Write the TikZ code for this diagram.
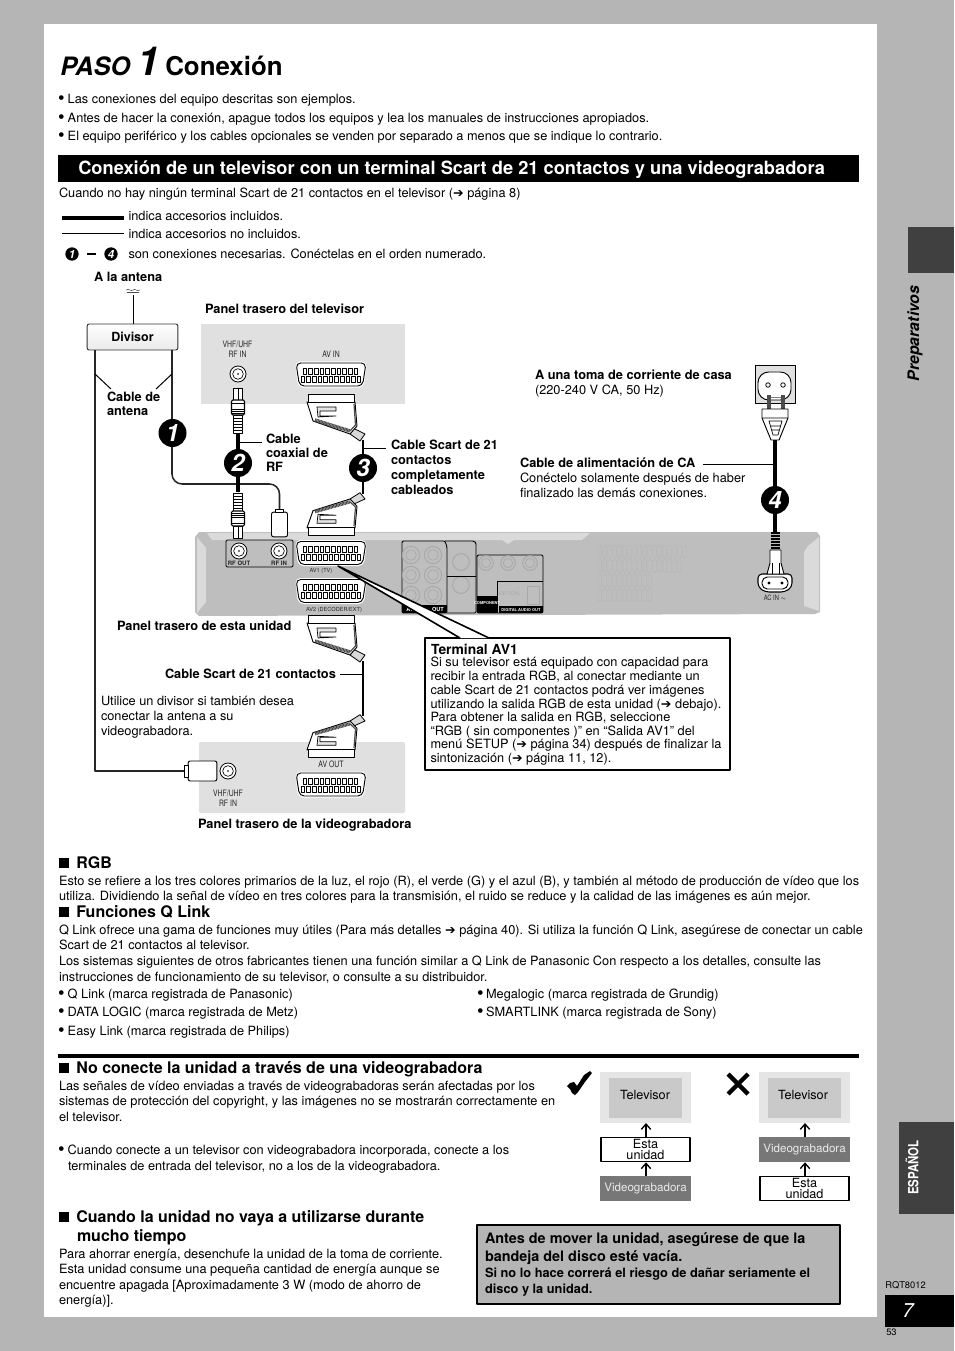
\documentclass[tikz,border=0pt]{standalone}
\usepackage{fontspec}
\setmainfont{TeX Gyre Heros}
\newfontfamily\dvf{DejaVu Sans}
\newcommand\arr{{\dvf\fontsize{9.5}{9}\selectfont\symbol{"2794}}}
\newcommand\bigbul{\raisebox{-.9pt}{\fontsize{14}{14}\selectfont\textbullet}}
\newcommand\bul{\makebox[7.3pt][l]{\bigbul}}
\newcommand\sq{\rule[0pt]{7.5pt}{7.5pt}}
\newcommand\fs[1]{\fontsize{#1}{#1}\selectfont}
\newcommand\narrow[1]{\scalebox{.78}[1]{#1}}
\definecolor{pagegray}{HTML}{B5B5B5}
\definecolor{tabdark}{HTML}{404040}
\definecolor{devgray}{HTML}{BEBEBE}
\definecolor{devlight}{HTML}{DADADA}
\definecolor{jack}{HTML}{A8A8A8}
\definecolor{panelgray}{HTML}{E0E0E0}
\definecolor{vcrbox}{HTML}{777777}
\usetikzlibrary{arrows.meta}
\tikzset{
 body/.style={anchor=base west,inner sep=0pt,outer sep=0pt,font=\fs{9.58}},
 boldt/.style={body,font=\fs{9.6}\bfseries},
 small/.style={anchor=base,inner sep=0pt,font=\fs{6.6},text=black!85},
 head/.style={body,font=\fs{12}\bfseries},
 num/.style={circle,fill=black,text=white,inner sep=0pt,minimum size=21pt,font=\fs{18}\bfseries\itshape},
 numsmall/.style={circle,fill=black,text=white,inner sep=0pt,minimum size=10pt,font=\fs{8.5}\bfseries\itshape},
 leader/.style={line width=.75pt},
 thincable/.style={line width=1.15pt,black!85},
 thickcable/.style={line width=2.4pt},
 schema/.style={anchor=center,inner sep=0pt,font=\fs{9.5},align=center},
 wbox/.style={draw,line width=1.2pt,fill=white,minimum width=67pt,minimum height=18pt,inner sep=0pt,font=\fontsize{9.5}{8.2}\selectfont,align=center},
 vbox/.style={fill=vcrbox,text=white!92!black,minimum width=68pt,minimum height=18.7pt,inner sep=0pt,font=\fs{8.7}},
 upar/.style={-{Straight Barb[length=4pt,width=7pt]},line width=1pt},
}
% scart socket centred at (x,y)
\newcommand\scartsock[3]{\begin{scope}[shift={(#1,#2)}]
 \fill[#3,rounded corners=4pt] (-36,-13)--(36,-13)--(33,13)--(-33,13)--cycle;
 \draw[line width=.7pt,fill=white,rounded corners=3.5pt] (-35,-11.5)--(35,-11.5)--(31.5,11.5)--(-31.5,11.5)--cycle;
 \foreach \i in {0,...,9} \draw[line width=.7pt] (-28+\i*5.7,-6.5) rectangle ++(3.6,6);
 \foreach \i in {0,...,10} \draw[line width=.7pt] (-29.8+\i*5.6,1.8) rectangle ++(3.6,6);
\end{scope}}
% scart plug: bar on one end, tail on the other
\newcommand\scartplug[3]{\begin{scope}[shift={(#1,#2)},yscale=#3]
 \draw[line width=.6pt,fill=black!15] (45,34)--(57,40)--(52,47)--(42,40)--cycle;
 \draw[line width=.7pt,fill=white] (-1,8)--(47,8)--(49,32)--(42,40)--(5,27)--cycle;
 \draw[line width=.7pt,fill=white] (0,0) rectangle (46,8);
 \draw[line width=2.6pt,black!75,dash pattern=on .7pt off .4pt] (7,26)--(42,37);
 \draw[line width=.9pt,black!70] (46,10)--(47.5,31)--(42,37);
 \draw[line width=.5pt,fill=black!10] (9,13)--(28,13)--(28,17)--(12,17)--(12,22)--(28,22)--(10,23)--cycle;
\end{scope}}
% coaxial plug
\newcommand\coaxplug[3]{\begin{scope}[shift={(#1,#2)},yscale=#3]
 \draw[line width=.7pt,fill=white] (-4.5,0) rectangle (4.5,12);
 \draw[line width=.5pt] (0,0)--(0,12);
 \foreach \y in {30,33,36,39,42,45} \draw[line width=.5pt,fill=white] (-4.5,\y-3) rectangle (4.5,\y);
 \draw[line width=.8pt,fill=white,rounded corners=1pt] (-6.5,12) rectangle (6.5,27);
 \foreach \y in {21,23,25} \draw[line width=.6pt] (-6.5,\y)--(6.5,\y);
 \draw[line width=.6pt] (-6.5,15)--(6.5,15);
\end{scope}}
% coaxial socket
\newcommand\coaxsock[3]{\begin{scope}[shift={(#1,#2)}]
 \draw[line width=.6pt,fill=#3] (0,0) circle (6pt);
 \draw[line width=.5pt,fill=white] (0,0) circle (4pt);
 \fill[black!70] (0,0) circle (.8pt);
\end{scope}}
\begin{document}
\begin{tikzpicture}[x=.75pt,y=-.75pt,line join=round]
\useasboundingbox (0,0) rectangle (954,1351);
% page
\fill[pagegray] (0,0) rectangle (954,1351);
\fill[white] (44,24) rectangle (877,1317);
\fill[tabdark] (908,227) rectangle (954,273);
\fill[tabdark] (899,1122) rectangle (954,1214);
\fill[black] (885,1295) rectangle (954,1327);
\node[anchor=center,inner sep=0,rotate=90,font=\fs{11.9}\bfseries\itshape] (sidePrep) at (915,333.5) {Preparativos};
\node[anchor=center,inner sep=0,rotate=90,text=white,font=\fs{10.5}\bfseries] (sideEsp) at (912,1167.5) {\scalebox{.82}[1]{ESPAÑOL}};
\node[anchor=base west,inner sep=0,font=\fs{7}] (docId) at (885,1288) {RQT8012};
\node[anchor=base west,inner sep=0,text=white,font=\fs{15}\itshape] (pageNo) at (902,1317) {7};
\node[anchor=base west,inner sep=0,font=\fs{7}] (subNo) at (886,1335) {53};
% title
\node[anchor=base west,inner sep=0,font=\fs{19}\bfseries\itshape] (tPaso) at (60,76) {PASO};
\node[anchor=base west,inner sep=0,font=\fs{30}\bfseries\itshape] (tOne) at (137,75.5) {1};
\node[anchor=base west,inner sep=0,font=\fs{19.4}\bfseries] (tCon) at (165,76) {Conexión};
% bullets
\node[body] (b1) at (58,103.5) {\bul Las conexiones del equipo descritas son ejemplos.};
\node[body] (b2) at (58,122.5) {\bul Antes de hacer la conexión, apague todos los equipos y lea los manuales de instrucciones apropiados.};
\node[body] (b3) at (58,140.5) {\bul El equipo periférico y los cables opcionales se venden por separado a menos que se indique lo contrario.};
% banner
\fill[black] (58,155) rectangle (859,182);
\node[anchor=base west,inner sep=0,text=white,font=\fs{13.7}\bfseries] (banner) at (78,174.5) {Conexión de un televisor con un terminal Scart de 21 contactos y una videograbadora};
\node[body] (intro) at (59,197.5) {Cuando no hay ningún terminal Scart de 21 contactos en el televisor (\arr\ página 8)};
% legend
\coordinate (lgA) at (62,218); \coordinate (lgB) at (124,218);
\coordinate (lgC) at (62,234); \coordinate (lgD) at (124,234);
\draw[line width=3pt] (lgA)--(lgB);
\draw[line width=.75pt] (lgC)--(lgD);
\node[body] (lg1) at (128.5,220.5) {indica accesorios incluidos.};
\node[body] (lg2) at (128.5,238.5) {indica accesorios no incluidos.};
\node[numsmall] (ls1) at (72,254) {1};
\node[numsmall] (ls4) at (111,254) {4};
\draw[line width=1.2pt,shorten >=6pt,shorten <=6pt] (ls1)--(ls4);
\node[body] (lg3) at (128.5,258.5) {son conexiones necesarias. Conéctelas en el orden numerado.};

% ---------- diagram labels
\node[boldt] (lAnt) at (94,281.5) {A la antena};
\node[boldt] (lTv) at (205,313.5) {Panel trasero del televisor};

% TV panel
\fill[panelgray] (201,324) rectangle (405,404);
\node[small] (tvRf1) at (237.5,348) {\narrow{VHF/UHF}};
\node[small] (tvRf2) at (237.5,358) {\narrow{RF IN}};
\node[small] (tvAv) at (331,358) {\narrow{AV IN}};
\coaxsock{238}{374}{white}
\scartsock{331}{374.5}{white}
\coaxplug{238}{388}{1}
\scartplug{308}{394}{1}

% antenna and divider
\coordinate (antTip) at (133,295);
\draw[line width=.4pt,black!70] (126,290) .. controls (129,288) and (131,292) .. (133,290) .. controls (135,288) and (137,292) .. (140,290);
\draw[line width=.4pt,black!70] (127,292.5) .. controls (129,291) and (131,294) .. (133,292.5) .. controls (135,291) and (137,294) .. (139,292.5);
\node[draw=black!80,line width=.7pt,rounded corners=1.5pt,inner sep=0pt,minimum width=68pt,minimum height=19.5pt,top color=white,bottom color=black!8,font=\fs{9.4}\bfseries] (divisor) at (132.5,337) {Divisor};
\draw[leader] (antTip)--(divisor.north-|antTip);
\coordinate (cL) at (95,350);
\coordinate (cR) at (172,350);
\coordinate (cRb) at (172,484);

% VCR panel
\fill[panelgray,rounded corners=1pt] (199,742) rectangle (405,813);
\node[small] (vcrAv) at (331,767) {\narrow{AV OUT}};
\node[small] (vcrRf1) at (228,796) {\narrow{VHF/UHF}};
\node[small] (vcrRf2) at (228,806) {\narrow{RF IN}};
\coaxsock{228}{771}{white}
\scartsock{331}{784.5}{white}
\node[boldt] (lVcr) at (198,828) {Panel trasero de la videograbadora};

% device
\fill[devgray] (195,537)--(199,532)--(817,532)--(820,536)--(820,612)--(815,614)--(199,616)--(195,612)--cycle;
\fill[devlight] (207,533)--(590,533)--(582,540)--(514,540)--(508,544)--(502,540)--(212,540)--cycle;
\fill[devlight] (197,537)--(206,548)--(206,602)--(197,613)--cycle;
\fill[devlight] (819,537)--(808,546)--(804,552)--(804,606)--(819,611)--cycle;
% RF block
\draw[line width=.7pt,rounded corners=1pt,fill=devgray] (226,540) rectangle (293,567);
\coaxsock{239}{551}{white}
\coaxsock{279}{551}{white}
\node[small,font=\fs{4.5}\bfseries] (rfOut) at (239,565) {RF OUT};
\node[small,font=\fs{4.5}\bfseries] (rfIn) at (279,565) {RF IN};
\scartsock{331}{553}{white}
\node[small,font=\fs{4.2}] (av1t) at (321,572) {AV1 (TV)};
\scartsock{331}{591}{white}
\node[small,font=\fs{4.2}] (av2t) at (334,611) {AV2 (DECODER/EXT)};
% AV output block
\draw[line width=.7pt,rounded corners=1pt] (402,541)--(445,541)--(447,547)--(447,613)--(402,613)--cycle;
\draw[line width=.7pt,rounded corners=1pt] (445,541)--(474,541)--(476,543)--(476,613)--(447,613);
\foreach \cx/\cy in {411/555,433/555,411/575,433/575,411/595,433/595}{
 \draw[jack,line width=.7pt] (\cx,\cy) circle (6.5pt);
 \draw[jack,line width=.5pt] (\cx,\cy) circle (4pt);}
\foreach \cy in {562,585}{\draw[jack,line width=.7pt] (461,\cy) circle (6.3pt);}
\draw[line width=.6pt] (447,576)--(476,576);
\fill[black] (402,605) rectangle (447,613);
\node[small,text=white,font=\fs{4.2}\bfseries] (avOutL) at (410,611) {AV};
\node[small,text=white,font=\fs{4.2}\bfseries] (avOutR) at (438,611) {OUT};
% component / digital block
\draw[line width=.7pt,rounded corners=1pt] (477,555) rectangle (543,613);
\foreach \cx in {486,508,530}{
 \draw[jack,line width=.7pt] (\cx,563) circle (5.5pt);
 \draw[jack,line width=.5pt] (\cx,563) circle (3.5pt);}
\draw[line width=.6pt] (497,613)--(497,581)--(543,581);
\draw[jack,line width=.7pt] (527,586) rectangle (539,604);
\node[small,text=jack,font=\fs{3.8}] (optical) at (510,595) {OPTICAL};
\fill[black] (477,596) rectangle (497,613);
\fill[black] (499,606) rectangle (543,613);
\node[small,text=white,font=\fs{3}\bfseries] (comp) at (487,604) {COMPONENT};
\node[small,text=white,font=\fs{3}\bfseries] (dig) at (521,611) {DIGITAL AUDIO OUT};
% vents
\foreach \r/\n in {0/18,1/17,2/11,3/11}{
 \foreach \i in {1,...,\n}{
  \draw[black!30,line width=.3pt,rounded corners=1pt] (593+\i*5,545+\r*14.5) rectangle ++(3.5,13);
 }}
% AC inlet
\draw[line width=.8pt,fill=white,rounded corners=3pt] (758,574)--(792,574)--(792,587)--(785,592)--(765,592)--(758,587)--cycle;
\draw[line width=.7pt,rounded corners=4pt] (762,577) rectangle (788,589);
\fill[black] (769,583) circle (1.2pt);\fill[black] (782,583) circle (1.2pt);
\node[small,font=\fs{5.5}] (acIn) at (775,600) {\narrow{AC IN $\sim$}};
\draw[line width=.7pt,fill=white] (770,550)--(781,550)--(781,563)--(784,574)--(767,574)--(770,563)--cycle;
\draw[line width=.6pt] (772,563)--(772,574) (779,563)--(779,574);
\foreach \y in {532,535,538,541,544,547} \fill[black] (771,\y) rectangle (780,\y+2.2);

% upper device plugs
\scartplug{308}{535}{-.9}
\coaxplug{238}{538}{-1}
\node[draw,line width=.7pt,fill=white,rounded corners=1.5pt,inner sep=0pt,minimum width=12pt,minimum height=18.5pt] (smallPlug) at (279.5,524.5) {};
\node[draw,line width=.6pt,fill=white,inner sep=0pt,minimum width=6pt,minimum height=2pt] (smallNeck) at (279.5,511) {};
% lower scart cable
\scartplug{308}{615}{1}
\scartplug{308}{757}{-.9}

% VCR plug
\node[draw,line width=.7pt,fill=white,rounded corners=1.5pt,inner sep=0pt,minimum width=21.5pt,minimum height=15pt] (vcrPlug) at (202.5,771) {};
\node[draw,line width=.6pt,fill=white,inner sep=0pt,minimum width=3pt,minimum height=9pt] (vcrTab) at (186,771) {};
% antenna cables
\coordinate (cLb) at (95,771);
\draw[thincable] (cL)--(cLb)--(vcrTab.west);
\draw[thincable,rounded corners=7.5pt] (cR)--(cRb)-|(smallNeck.north);
\node[num] (n1) at (172.5,433) {1};

% coax cable
\coordinate (cxT) at (238,434); \coordinate (cxB) at (238,492); \coordinate (cxL) at (238,442); \coordinate (cxLe) at (262,442);
\draw[thickcable] (cxT)--(cxB);
\draw[leader] (cxL)--(cxLe);
\node[num] (n2) at (238,463) {2};

% scart cable top
\coordinate (stT) at (363,440); \coordinate (stB) at (363,494); \coordinate (stL) at (363,448); \coordinate (stLe) at (386,448);
\draw[line width=1pt] (stT)--(stB);
\draw[leader] (stL)--(stLe);
\node[num] (n3) at (363,468) {3};

% scart cable bottom
\coordinate (sbT) at (363,661); \coordinate (sbB) at (363,716); \coordinate (sbL) at (363,674); \coordinate (sbLe) at (340,674);
\draw[line width=1pt] (sbT)--(sbB);
\draw[leader] (sbL)--(sbLe);

% leaders to antenna cable
\coordinate (aL1) at (95,374); \coordinate (aL2) at (111,389);
\coordinate (aR1) at (172,374); \coordinate (aR2) at (156,389);
\draw[leader] (aL1)--(aL2);
\draw[leader] (aR1)--(aR2);
\node[boldt] (lCa1) at (107,401.5) {Cable de};
\node[boldt] (lCa2) at (107,415) {antena};
\node[boldt] (lCx1) at (266,443) {Cable};
\node[boldt] (lCx2) at (266,457) {coaxial de};
\node[boldt] (lCx3) at (266,471) {RF};
\node[boldt] (lSc1) at (391,449) {Cable Scart de 21};
\node[boldt] (lSc2) at (391,464) {contactos};
\node[boldt] (lSc3) at (391,479) {completamente};
\node[boldt] (lSc4) at (391,494) {cableados};

% mains
\fill[panelgray] (755,365) rectangle (795,403);
\draw[line width=.6pt] (755,365) rectangle (795,403);
\draw[line width=.7pt,fill=white,rounded corners=8pt] (758,372) rectangle (791,400);
\draw[line width=.6pt] (768,385) circle (1.7pt) (783,385) circle (1.7pt);
\fill[black!70] (767,395) rectangle (771,410);
\fill[black!70] (781,395) rectangle (785,410);
\draw[line width=.5pt,black!50] (771,397)--(781,397);
\draw[line width=.7pt,fill=white] (762,409)--(788,409)--(788,418)--(779,440)--(771,440)--(762,418)--cycle;
\draw[line width=.5pt] (762,418)--(788,418) (769,421)--(782,421)--(778,435)--(773,435)--cycle (771,426)--(780,426) (772,430)--(779,430);
\coordinate (pwT) at (775,440); \coordinate (pwB) at (775,532); \coordinate (pwL) at (775,464); \coordinate (pwLe) at (703,464);
\draw[thickcable] (pwT)--(pwB);
\draw[leader] (pwL)--(pwLe);
\node[num] (n4) at (775,500) {4};
\node[boldt] (lMa1) at (535,379) {A una toma de corriente de casa};
\node[body] (lMa2) at (535,394) {(220-240 V CA, 50 Hz)};
\node[boldt] (lAc1) at (520,467) {Cable de alimentación de CA};
\node[body] (lAc2) at (520,482) {Conéctelo solamente después de haber};
\node[body] (lAc3) at (520,497) {finalizado las demás conexiones.};

\node[boldt] (lUnit) at (117,630) {Panel trasero de esta unidad};
\node[boldt] (lSc) at (165,678) {Cable Scart de 21 contactos};
\node[body] (lU1) at (101,705) {Utilice un divisor si también desea};
\node[body] (lU2) at (101,720) {conectar la antena a su};
\node[body] (lU3) at (101,735) {videograbadora.};

% terminal AV1 box and callout
\coordinate (wedge) at (338,566);
\coordinate (wedgeA) at (460,638);
\coordinate (wedgeB) at (489,638);
\draw[line width=1.2pt,fill=white] (425,638) rectangle (730,770);
\fill[white] (wedge)--(wedgeA)--(wedgeB)--cycle;
\draw[line width=1.2pt] (wedgeA)--(wedge)--(wedgeB);
\node[body,font=\fs{10.4}\bfseries] (tav) at (431,654) {Terminal AV1};
\node[body] (ta1) at (430.5,666.5) {Si su televisor está equipado con capacidad para};
\node[body] (ta2) at (430.5,680.5) {recibir la entrada RGB, al conectar mediante un};
\node[body] (ta3) at (430.5,694) {cable Scart de 21 contactos podrá ver imágenes};
\node[body] (ta4) at (430.5,708) {utilizando la salida RGB de esta unidad (\arr\ debajo).};
\node[body] (ta5) at (430.5,721.5) {Para obtener la salida en RGB, seleccione};
\node[body] (ta6) at (430.5,735) {“RGB ( sin componentes )” en “Salida AV1” del};
\node[body] (ta7) at (430.5,748.5) {menú SETUP (\arr\ página 34) después de finalizar la};
\node[body] (ta8) at (430.5,762) {sintonización (\arr\ página 11, 12).};

% RGB
\node[head] (hRgb) at (59,868) {\sq\hspace{5.5pt}RGB};
\node[body] (r1) at (59,885) {Esto se refiere a los tres colores primarios de la luz, el rojo (R), el verde (G) y el azul (B), y también al método de producción de vídeo que los};
\node[body] (r2) at (59,900) {utiliza. Dividiendo la señal de vídeo en tres colores para la transmisión, el ruido se reduce y la calidad de las imágenes es aún mejor.};
\node[head] (hQ) at (59,917) {\sq\hspace{5.5pt}Funciones Q Link};
\node[body] (q1) at (59,934) {Q Link ofrece una gama de funciones muy útiles (Para más detalles \arr\ página 40). Si utiliza la función Q Link, asegúrese de conectar un cable};
\node[body] (q2) at (59,949) {Scart de 21 contactos al televisor.};
\node[body] (q3) at (59,965) {Los sistemas siguientes de otros fabricantes tienen una función similar a Q Link de Panasonic Con respecto a los detalles, consulte las};
\node[body] (q4) at (59,981) {instrucciones de funcionamiento de su televisor, o consulte a su distribuidor.};
\node[body] (qa) at (58,998) {\bul Q Link (marca registrada de Panasonic)};
\node[body] (qb) at (58,1016) {\bul DATA LOGIC (marca registrada de Metz)};
\node[body] (qc) at (58,1035) {\bul Easy Link (marca registrada de Philips)};
\node[body] (qd) at (477,998) {\makebox[6.8pt][l]{\bigbul}Megalogic (marca registrada de Grundig)};
\node[body] (qe) at (477,1016) {\makebox[6.8pt][l]{\bigbul}SMARTLINK (marca registrada de Sony)};

% separator
\coordinate (sepA) at (58,1056); \coordinate (sepB) at (859,1056);
\draw[line width=2.3pt] (sepA)--(sepB);
\node[head] (hNo) at (59,1073) {\sq\hspace{5.5pt}No conecte la unidad a través de una videograbadora};
\node[body] (n11) at (59,1090) {Las señales de vídeo enviadas a través de videograbadoras serán afectadas por los};
\node[body] (n12) at (59,1105) {sistemas de protección del copyright, y las imágenes no se mostrarán correctamente en};
\node[body] (n13) at (59,1121) {el televisor.};
\node[body] (n14) at (58,1154) {\bul Cuando conecte a un televisor con videograbadora incorporada, conecte a los};
\node[body] (n15) at (68,1170) {terminales de entrada del televisor, no a los de la videograbadora.};
\node[head] (hCu1) at (59,1222) {\sq\hspace{5.5pt}Cuando la unidad no vaya a utilizarse durante};
\node[head] (hCu2) at (77,1241) {mucho tiempo};
\node[body] (c1) at (59,1258) {Para ahorrar energía, desenchufe la unidad de la toma de corriente.};
\node[body] (c2) at (59,1273) {Esta unidad consume una pequeña cantidad de energía aunque se};
\node[body] (c3) at (59,1289) {encuentre apagada [Aproximadamente 3 W (modo de ahorro de};
\node[body] (c4) at (59,1304) {energía)].};

% warning box
\draw[line width=1.5pt,fill=pagegray] (477,1225) rectangle (840,1304);
\node[boldt,font=\fs{10.8}\bfseries] (w1) at (485,1243) {Antes de mover la unidad, asegúrese de que la};
\node[boldt,font=\fs{10.8}\bfseries] (w2) at (485,1261) {bandeja del disco esté vacía.};
\node[boldt] (w3) at (485,1277) {Si no lo hace correrá el riesgo de dañar seriamente el};
\node[boldt] (w4) at (485,1293) {disco y la unidad.};

% check and cross
\fill[black] (567,1086)--(570,1083)--(574,1082)--(577,1086)--(584,1075)--(590,1071)--(592,1073)--(585,1082)--(578,1092)--(575,1095)--(572,1093)--(570,1089)--cycle;
\draw[line width=3.2pt] (728,1074)--(748,1094) (748,1074)--(728,1094);

% correct chain
\fill[panelgray!85] (600,1072) rectangle (691,1123);
\node[fill=black!21,minimum width=55pt,minimum height=30pt,inner sep=0pt,font=\fs{9.5}] (tvA) at (645.5,1098) {};
\node[schema] (tvAt) at (645,1095) {Televisor};
\node[wbox] (estaA) at (645.5,1149.5) {Esta\\unidad};
\node[vbox] (vcrA) at (645.5,1188.5) {\raisebox{-1pt}{Videograbadora}};
\coordinate (tvAb) at (646,1123);
\draw[upar] (estaA.north-|tvAb)--(tvAb);
\draw[upar] (vcrA.north-|tvAb)--(estaA.south-|tvAb);
% wrong chain
\fill[panelgray!85] (759,1072) rectangle (850,1123);
\node[fill=black!21,minimum width=55pt,minimum height=30pt,inner sep=0pt] (tvB) at (804.5,1098) {};
\node[schema] (tvBt) at (803,1095) {Televisor};
\node[vbox] (vcrB) at (804.5,1149.5) {\raisebox{-1pt}{Videograbadora}};
\node[wbox] (estaB) at (804.5,1188.5) {Esta\\unidad};
\coordinate (tvBb) at (805,1123);
\draw[upar] (vcrB.north-|tvBb)--(tvBb);
\draw[upar] (estaB.north-|tvBb)--(vcrB.south-|tvBb);
\end{tikzpicture}
\end{document}
